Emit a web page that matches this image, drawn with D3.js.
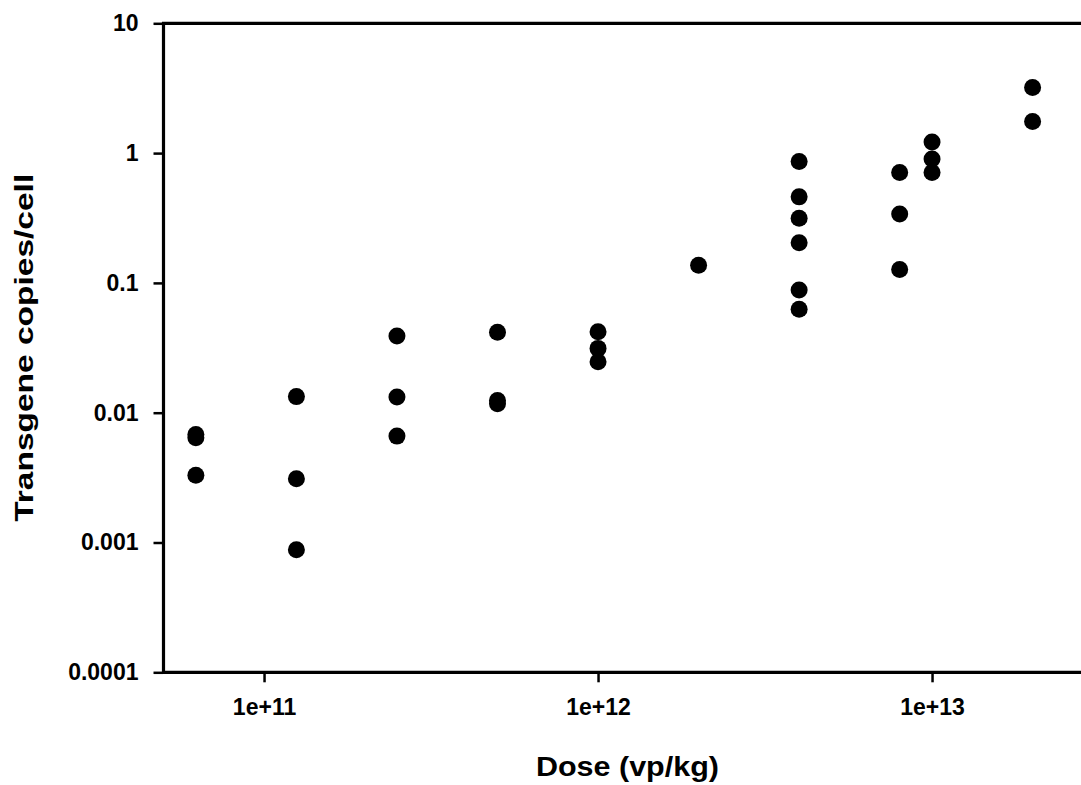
<!DOCTYPE html>
<html>
<head>
<meta charset="utf-8">
<script src="https://cdn.jsdelivr.net/npm/d3@7"></script>
<style>
  body { margin: 0; background: #fff; }
  svg { display: block; }
</style>
</head>
<body>
<div class="chart"></div>
<script>
// dose groups (vp/kg) and the transgene copies/cell measured at each
const doses = [6.25e10, 1.25e11, 2.5e11, 5e11, 1e12, 2e12, 4e12, 8e12, 1e13, 2e13];
const copies = [
  [0.0068, 0.0064, 0.0033],
  [0.0133, 0.0031, 0.00088],
  [0.039, 0.0132, 0.0066],
  [0.0416, 0.0124, 0.0117],
  [0.042, 0.0313, 0.0247],
  [0.137],
  [0.86, 0.46, 0.315, 0.204, 0.088, 0.0626],
  [0.71, 0.34, 0.127],
  [1.22, 0.90, 0.71],
  [3.2, 1.75]
];
const xTicks = [1e11, 1e12, 1e13];
const xTickLabels = ["1e+11", "1e+12", "1e+13"];
const yTicks = [10, 1, 0.1, 0.01, 0.001, 0.0001];
const yTickLabels = ["10", "1", "0.1", "0.01", "0.001", "0.0001"];

const W = 1081, H = 785;
const margin = { top: 23.3, right: -10.4, bottom: 112.7, left: 163.5 },
      width = W - margin.left - margin.right,
      height = H - margin.top - margin.bottom;

let points = [];
doses.forEach((d, i) => copies[i].forEach(v => points.push([d, v])));

let svg = d3.select(".chart").append("svg")
    .attr("width", W)
    .attr("height", H)
  .append("g")
    .attr("transform", "translate(" + margin.left + "," + margin.top + ")");

let x = d3.scaleLog().domain([5e10, 3e13]).range([0, width]);
let y = d3.scaleLog().domain([1e-4, 10]).range([height, 0]);

svg.selectAll(".dot")
  .data(points)
  .enter().append("circle")
    .attr("class", "dot")
    .attr("cx", d => x(d[0]))
    .attr("cy", d => y(d[1]))
    .attr("r", 8.5)
    .attr("fill", "#000");

let xAxis = svg.append("g")
    .attr("transform", "translate(0," + height + ")")
    .call(d3.axisBottom(x).tickValues(xTicks)
      .tickFormat((d, i) => xTickLabels[i]).tickSize(10).tickPadding(16));

let yAxis = svg.append("g")
    .call(d3.axisLeft(y).tickValues(yTicks)
      .tickFormat((d, i) => yTickLabels[i]).tickSize(10).tickPadding(15));

[xAxis, yAxis].forEach(g => {
  g.select(".domain").attr("d", null);
  g.selectAll(".tick line").attr("stroke-width", 2.5);
  g.selectAll("text")
    .attr("fill", "#000")
    .style("font-family", "'Liberation Sans', Arial, sans-serif")
    .style("font-weight", "bold")
    .style("font-size", "23px");
});

// axis frame: left, bottom and top lines
svg.append("path")
    .attr("d", "M" + width + ",0H0V" + height + "H" + width)
    .attr("fill", "none")
    .attr("stroke", "#000")
    .attr("stroke-width", 3.2);

svg.append("text")
    .attr("x", (x.range()[0] + x.range()[1]) / 2)
    .attr("y", height + 103.7)
    .attr("text-anchor", "middle")
    .attr("textLength", 183)
    .attr("lengthAdjust", "spacingAndGlyphs")
    .style("font-family", "'Liberation Sans', Arial, sans-serif")
    .style("font-weight", "bold")
    .style("font-size", "28px")
    .text("Dose (vp/kg)");

svg.append("text")
    .attr("transform", "translate(" + (33 - margin.left) + "," + (height / 2) + ") rotate(-90)")
    .attr("text-anchor", "middle")
    .attr("textLength", 348)
    .attr("lengthAdjust", "spacingAndGlyphs")
    .style("font-family", "'Liberation Sans', Arial, sans-serif")
    .style("font-weight", "bold")
    .style("font-size", "26px")
    .text("Transgene copies/cell");
</script>
</body>
</html>
